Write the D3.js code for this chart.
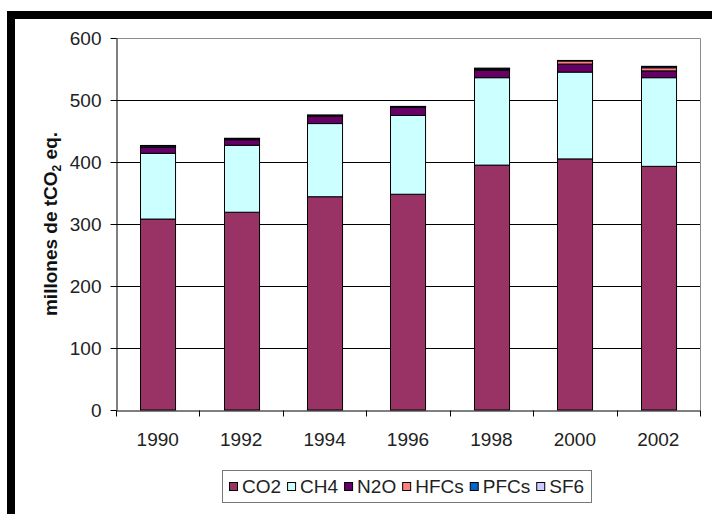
<!DOCTYPE html>
<html>
<head>
<meta charset="utf-8">
<script src="https://cdn.jsdelivr.net/npm/d3@7"></script>
<style>
  body { margin: 0; background: #fff; }
  svg { display: block; font-family: "Liberation Sans", Arial, sans-serif; }
</style>
</head>
<body>
<div id="chart"></div>
<script>
const years = ['1990', '1992', '1994', '1996', '1998', '2000', '2002'];
const co2  = [308, 319, 344, 348, 395, 405, 393];
const ch4  = [106, 108, 118, 127, 141, 140, 143];
const n2o  = [10, 9, 12, 13, 12, 13, 11];
const hfcs = [0.5, 0.5, 0.5, 0.5, 1, 5, 5];
const pfcs = [2, 1.5, 1, 1, 2, 0.5, 2];
const sf6  = [0.2, 0.2, 0.2, 0.2, 0.3, 0.3, 0.3];
const gases = ['CO2', 'CH4', 'N2O', 'HFCs', 'PFCs', 'SF6'];
const yTicks = [0, 100, 200, 300, 400, 500, 600];

const colors = ['#993366', '#ccffff', '#660066', '#ff8080', '#0066cc', '#ccccff'];

const width = 712;
const height = 514;
const margin = {top: 38, bottom: 104, left: 116, right: 12};

const series = [co2, ch4, n2o, hfcs, pfcs, sf6];
const table = years.map((yr, i) => {
  const row = {year: yr};
  gases.forEach((g, j) => row[g] = series[j][i]);
  return row;
});

const svg = d3.select('#chart')
  .append('svg')
  .attr('width', width)
  .attr('height', height);

// black frame on top and left
svg.append('rect').attr('x', 7).attr('y', 11).attr('width', width - 7).attr('height', 8).attr('fill', '#000');
svg.append('rect').attr('x', 7).attr('y', 11).attr('width', 8).attr('height', height - 11).attr('fill', '#000');

const x = d3.scaleBand()
  .domain(years)
  .range([margin.left, width - margin.right])
  .paddingInner(0.58)
  .paddingOuter(0.29);

const y = d3.scaleLinear()
  .domain([0, 600])
  .range([height - margin.bottom, margin.top]);

// gridlines
svg.append('g')
  .selectAll('line')
  .data(yTicks.slice(1, -1))
  .join('line')
    .attr('x1', margin.left)
    .attr('x2', width - margin.right)
    .attr('y1', d => Math.round(y(d)) + 0.5)
    .attr('y2', d => Math.round(y(d)) + 0.5)
    .attr('stroke', '#000');

// plot area border (top, right)
svg.append('path')
  .attr('d', `M${margin.left},${y(600) + 0.5}H${width - margin.right + 0.5}V${y(0)}`)
  .attr('fill', 'none')
  .attr('stroke', '#8c8c8c');

const stacked = d3.stack().keys(gases)(table);

svg.append('g')
  .selectAll('g')
  .data(stacked)
  .join('g')
    .attr('fill', (d, i) => colors[i])
  .selectAll('rect')
  .data(d => d)
  .join('rect')
    .attr('x', d => Math.round(x(d.data.year)) + 0.5)
    .attr('y', d => y(d[1]))
    .attr('width', x.bandwidth())
    .attr('height', d => y(d[0]) - y(d[1]))
    .attr('stroke', '#000')
    .attr('stroke-width', 1);

// y axis
svg.append('g')
  .attr('transform', `translate(${margin.left + 0.5},0)`)
  .call(d3.axisLeft(y).tickValues(yTicks).tickSize(6).tickPadding(9).tickSizeOuter(0))
  .call(g => g.selectAll('text').attr('font-size', 19).attr('fill', '#222').attr('font-family', null))
  .call(g => g.selectAll('line, path').attr('stroke', '#000'));

// x axis: labels centred, ticks between categories
svg.append('g')
  .attr('transform', `translate(0,${y(0) + 0.5})`)
  .call(d3.axisBottom(x).tickSize(0).tickPadding(22).tickSizeOuter(0))
  .call(g => g.selectAll('text').attr('font-size', 19).attr('fill', '#222').attr('font-family', null))
  .call(g => g.select('.domain').attr('stroke', '#000'))
  .call(g => g.append('g')
    .selectAll('line')
    .data(d3.range(years.length + 1))
    .join('line')
      .attr('x1', i => Math.round(x.range()[0] + i * x.step()) + 0.5)
      .attr('x2', i => Math.round(x.range()[0] + i * x.step()) + 0.5)
      .attr('y1', 0)
      .attr('y2', 6)
      .attr('stroke', '#000'));

// y axis title
const title = svg.append('text')
  .attr('transform', `translate(57,${(y(0) + y(600)) / 2}) rotate(-90)`)
  .attr('text-anchor', 'middle')
  .attr('font-size', 19)
  .attr('font-weight', 'bold')
  .attr('fill', '#111');
title.append('tspan').text('millones de tCO');
title.append('tspan').attr('font-size', 12).attr('dy', 4).text('2');
title.append('tspan').attr('dy', -4).text(' eq.');

// legend
const legend = svg.append('g');
const legendBox = legend.append('rect')
  .attr('x', 222.5).attr('y', 470.5)
  .attr('width', 369).attr('height', 32)
  .attr('fill', '#fff')
  .attr('stroke', '#777');

let lx = 229;
gases.forEach((g, i) => {
  legend.append('rect')
    .attr('x', lx + 0.5).attr('y', 482.5)
    .attr('width', 8).attr('height', 8)
    .attr('fill', colors[i])
    .attr('stroke', '#000');
  const t = legend.append('text')
    .attr('x', lx + 13)
    .attr('y', 493)
    .attr('font-size', 19)
    .attr('fill', '#222')
    .text(g);
  lx += 13 + t.node().getComputedTextLength() + 6;
});
</script>
</body>
</html>
